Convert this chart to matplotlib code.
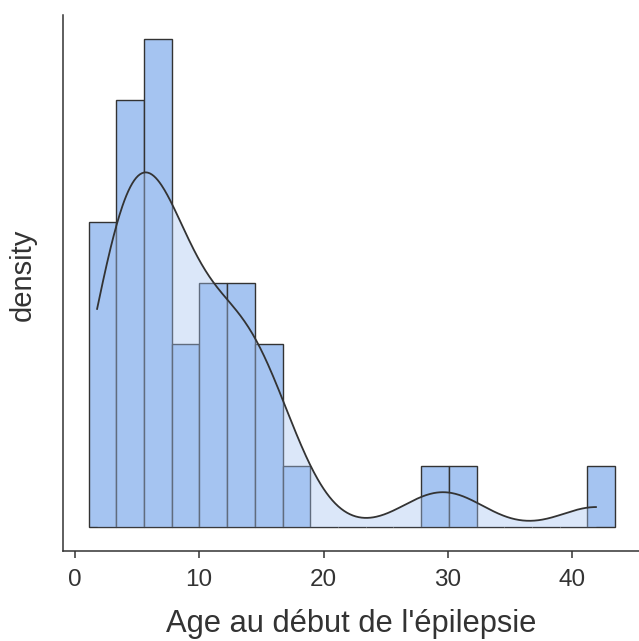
import numpy as np
import matplotlib
matplotlib.use("Agg")
import matplotlib.pyplot as plt

ages = [1.8, 2.2, 2.6, 3.0, 3.2,
        3.4, 3.6, 3.9, 4.3, 4.7, 5.1, 5.5,
        5.7, 6.0, 6.3, 6.6, 7.0, 7.3, 7.5, 7.7,
        8.2, 9.0, 9.8,
        10.3, 11.0, 11.5, 12.0,
        12.8, 13.5, 14.0, 14.4,
        14.8, 15.5, 16.3,
        17.8,
        28.2,
        31.0,
        41.9]
x_ticks = [0, 10, 20, 30, 40]
x_label = "Age au début de l'épilepsie"
y_label = "density"
n_bins = 19

bar_color = "#a5c4f1"
dark = "#333333"

plt.rcParams['font.family'] = ['Liberation Sans', 'DejaVu Sans']

data = np.array(ages)
n = len(data)
lo, hi = data.min(), data.max()
# ggplot2-style bins
width = (hi - lo) / (n_bins - 1)
boundary = width / 2
shift = np.floor((lo - boundary) / width)
origin = boundary + shift * width
edges = origin + width * np.arange(n_bins + 1)
counts, _ = np.histogram(data, bins=edges)
dens = counts / (n * width)

# KDE (gaussian, nrd0 bandwidth)
sd = data.std(ddof=1)
q75, q25 = np.percentile(data, [75, 25])
bw = 0.9 * min(sd, (q75 - q25) / 1.34) * n ** (-0.2)
xs = np.linspace(lo, hi, 512)
kde = np.exp(-0.5 * ((xs[:, None] - data[None, :]) / bw) ** 2).sum(axis=1) / (n * bw * np.sqrt(2 * np.pi))

fig = plt.figure(figsize=(6.39, 6.41), dpi=100)
ax = fig.add_axes([63 / 639, (641 - 551) / 641, (639 - 63) / 639, 536 / 641])

ax.bar(edges[:-1], dens, width=width, align='edge', color=bar_color,
       edgecolor=dark, linewidth=1.0, zorder=2)
ax.fill_between(xs, 0, kde, color=bar_color, alpha=0.4, linewidth=0, zorder=3)
ax.plot(xs, kde, color=dark, linewidth=1.3, zorder=4)

m = dens.max()
ax.set_ylim(-0.05 * m, 1.05 * m)
px = 12.44
ax.set_xlim((63 - 74.7) / px, (639 - 74.7) / px)

for s in ['top', 'right']:
    ax.spines[s].set_visible(False)
for s in ['left', 'bottom']:
    ax.spines[s].set_color(dark)
    ax.spines[s].set_linewidth(1.1)

ax.set_xticks(x_ticks)
ax.set_yticks([])
ax.tick_params(axis='x', length=4.8, width=1.1, color=dark, labelsize=17.5,
               labelcolor=dark, pad=8.5)
ax.set_xlabel(x_label, fontsize=22.2, color=dark, labelpad=12.5)
ax.set_ylabel(y_label, fontsize=21, color=dark)
ax.yaxis.set_label_coords(-0.045, 0.515)

fig.savefig("out.png", dpi=100)
